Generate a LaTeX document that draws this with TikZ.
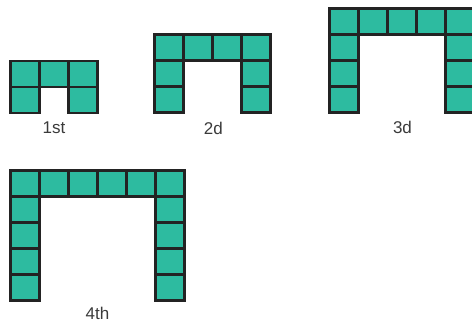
\documentclass[tikz,border=0pt]{standalone}
\usepackage{fontspec}
\setmainfont{Liberation Sans}
\definecolor{tealfill}{HTML}{2DBBA0}
\definecolor{edgecol}{HTML}{232323}
\definecolor{labcol}{HTML}{3A3A3A}
\tikzset{
  cellbox/.style={draw=edgecol, fill=tealfill, line width=2.7pt, rectangle,
    minimum width=29pt, minimum height=26pt, inner sep=0pt, outer sep=0pt},
  lab/.style={text=labcol, anchor=base, inner sep=0pt, font=\fontsize{17}{20}\selectfont}
}
\begin{document}
\begin{tikzpicture}[x=1pt,y=-1pt]
\useasboundingbox (0,0) rectangle (472,323);
\clip (0,0) rectangle (472,323);
% fig name / x0 / y0 / cols / rows
\foreach \f/\xo/\yo/\n/\m in {a/10.4/61/3/2, b/154.6/34.6/4/3, c/329.6/8.5/5/4, d/10.6/170.6/6/5}{
  \foreach \i in {1,...,\n}{
    \node[cellbox] (\f top\i) at ({\xo+(\i-0.5)*29},{\yo+13}) {};
  }
  \foreach \j in {2,...,\m}{
    \node[cellbox] (\f left\j) at ({\xo+14.5},{\yo+(\j-0.5)*26}) {};
    \node[cellbox] (\f right\j) at ({\xo+(\n-0.5)*29},{\yo+(\j-0.5)*26}) {};
  }
}
\node[lab] (l1) at (54,134) {1st};
\node[lab] (l2) at (213.3,135) {2d};
\node[lab] (l3) at (402.5,133.5) {3d};
\node[lab] (l4) at (97.5,320) {4th};
\end{tikzpicture}
\end{document}
